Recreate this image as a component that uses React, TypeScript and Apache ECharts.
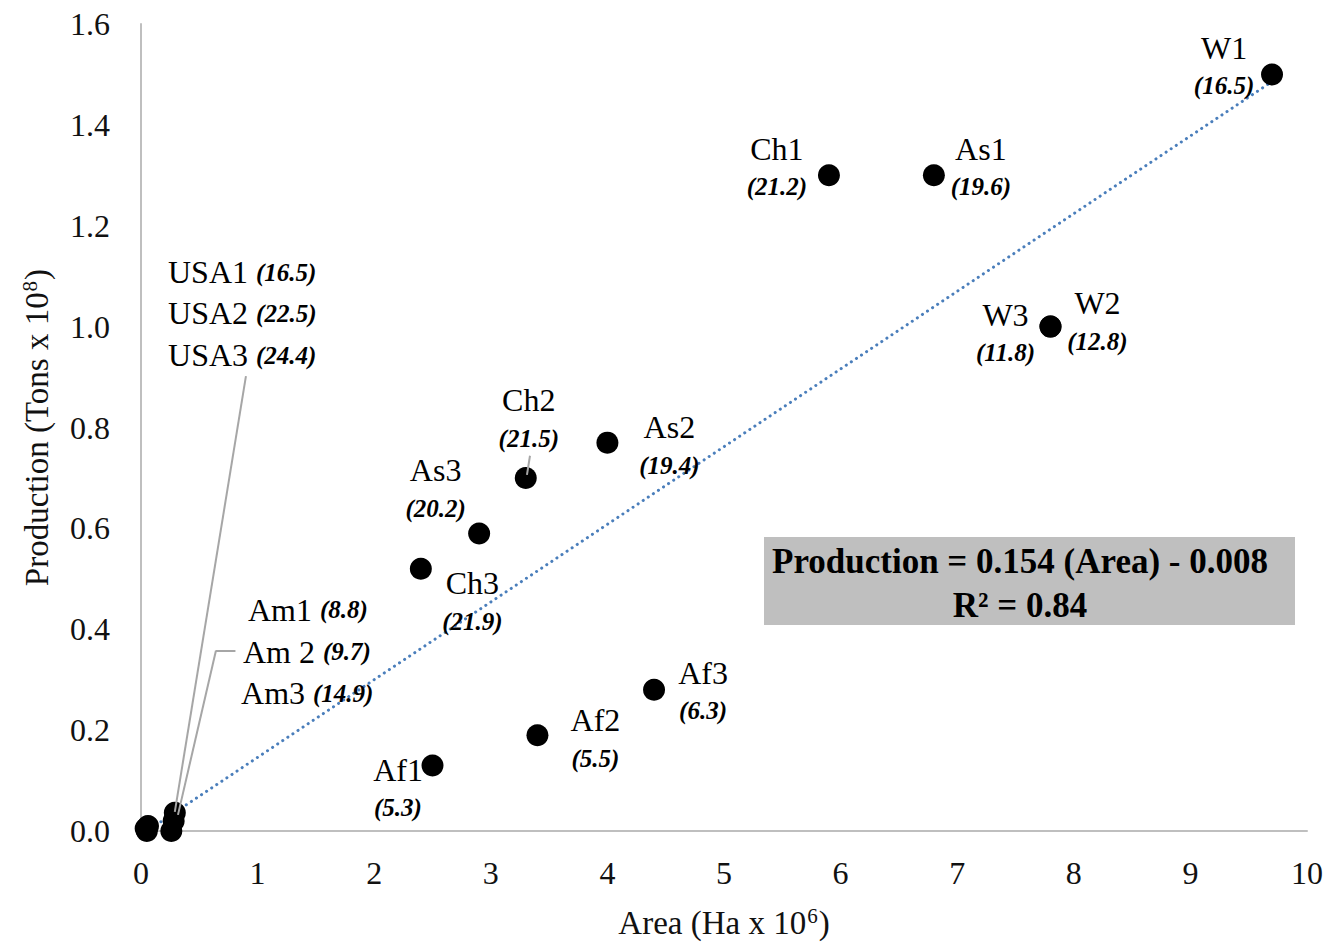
import React, { useEffect, useRef } from "react";
import * as echarts from "echarts";

// ---- data ----
const names = ["W1", "Ch1", "As1", "W2", "W3", "Ch2", "As2", "As3", "Ch3", "Af3", "Af2", "Af1", "USA1", "USA2", "USA3", "Am1", "Am 2", "Am3"];
const areas = [9.7, 5.9, 6.8, 7.8, 7.8, 3.3, 4.0, 2.9, 2.4, 4.4, 3.4, 2.5, 0.29, 0.28, 0.26, 0.04, 0.06, 0.05];
const productions = [1.5, 1.3, 1.3, 1.0, 1.0, 0.7, 0.77, 0.59, 0.52, 0.28, 0.19, 0.13, 0.036, 0.02, 0.0, 0.005, 0.01, 0.0];
const yields = ["16.5", "21.2", "19.6", "12.8", "11.8", "21.5", "19.4", "20.2", "21.9", "6.3", "5.5", "5.3", "16.5", "22.5", "24.4", "8.8", "9.7", "14.9"];

const xTicks = { min: 0, max: 10, interval: 1 };
const yTicks = { min: 0, max: 1.6, interval: 0.2 };

const TREND_SLOPE = 0.154;
const TREND_INTERCEPT = -0.008;
const R2 = 0.84;

// ---- layout (label offsets in px from the point centre) ----
const labelOffsets: [number, number][] = [
  [-48, -7.5], [-52, -7.5], [47, -7.5], [47, -4.5], [-45, 7], [3, -58.5],
  [62, 3.5], [-43.5, -44], [51.5, 33.5], [49, 2], [58, 4], [-34.5, 23.5],
  [-6.8, -540.8], [-5.6, -507.9], [-3.3, -476],
  [102.3, -218.5], [95, -174], [94.2, -138],
];
const inlineLabel = [false, false, false, false, false, false, false, false, false, false, false, false, true, true, true, true, true, true];

// leader lines (data coordinates)
const leaderLines: [number, number][][] = [
  [[0.9, 0.902], [0.29, 0.038]],
  [[0.81, 0.358], [0.643, 0.358]],
  [[0.643, 0.358], [0.317, 0.032]],
  [[3.336, 0.744], [3.31, 0.706]],
];

const FONT = '"Liberation Serif", "Times New Roman", serif';

export default function App() {
  const ref = useRef<HTMLDivElement>(null);
  useEffect(() => {
    if (!ref.current) return;
    const chart = echarts.init(ref.current, undefined, { renderer: "svg" });
    const xMin = Math.min(...areas);
    const xMax = Math.max(...areas);
    const trend = [
      [xMin, TREND_SLOPE * xMin + TREND_INTERCEPT],
      [xMax, TREND_SLOPE * xMax + TREND_INTERCEPT],
    ];
    const rich = {
      n: { fontFamily: FONT, fontSize: 32, color: "#000", lineHeight: 38 },
      v: { fontFamily: FONT, fontSize: 25, fontWeight: "bold", fontStyle: "italic", color: "#000", lineHeight: 38 },
    };
    const points = names.map((n, i) => ({
      value: [areas[i], productions[i]],
      label: {
        show: true,
        position: "inside",
        align: inlineLabel[i] ? "left" : "center",
        verticalAlign: "middle",
        formatter: inlineLabel[i] ? `{n|${n} }{v|(${yields[i]})}` : `{n|${n}}\n{v|(${yields[i]})}`,
        rich,
      },
    }));
    chart.setOption({
      animation: false,
      backgroundColor: "#fff",
      grid: { left: 141, right: 25, top: 24, bottom: 116 },
      xAxis: {
        type: "value",
        ...xTicks,
        name: "Area (Ha x 10{s|6})",
        nameLocation: "middle",
        nameGap: 74,
        nameTextStyle: {
          fontFamily: FONT, fontSize: 33, color: "#111",
          rich: { s: { fontFamily: FONT, fontSize: 21, color: "#111", verticalAlign: "top", padding: [0, 1, 14, 1] } },
        },
        axisLine: { show: true, onZero: false, lineStyle: { color: "#bfbfbf", width: 2 } },
        axisTick: { show: false },
        splitLine: { show: false },
        axisLabel: { fontFamily: FONT, fontSize: 32, color: "#111", margin: 26 },
      },
      yAxis: {
        type: "value",
        ...yTicks,
        name: "Production (Tons x 10{s|8})",
        nameLocation: "middle",
        nameGap: 87,
        nameRotate: 90,
        nameTextStyle: {
          fontFamily: FONT, fontSize: 33, color: "#111",
          rich: { s: { fontFamily: FONT, fontSize: 21, color: "#111", verticalAlign: "top", padding: [0, 1, 14, 1] } },
        },
        axisLine: { show: true, lineStyle: { color: "#bfbfbf", width: 2 } },
        axisTick: { show: false },
        splitLine: { show: false },
        axisLabel: { fontFamily: FONT, fontSize: 32, color: "#111", margin: 31, formatter: (v: number) => v.toFixed(1) },
      },
      series: [
        {
          type: "line",
          data: trend,
          showSymbol: false,
          symbol: "none",
          z: 1,
          lineStyle: { color: "#4a7ebb", width: 3, type: [0.1, 6], cap: "round" },
          silent: true,
        },
        {
          type: "scatter",
          data: points,
          symbolSize: 22,
          clip: false,
          z: 2,
          itemStyle: { color: "#000", opacity: 1 },
          labelLayout: (params: any) => ({
            dx: labelOffsets[params.dataIndex][0],
            dy: labelOffsets[params.dataIndex][1],
            hideOverlap: false,
          }),
        },
        {
          type: "line",
          data: [],
          z: 3,
          markLine: {
            silent: true,
            symbol: ["none", "none"],
            label: { show: false },
            lineStyle: { color: "#a6a6a6", width: 2, type: "solid" },
            data: leaderLines.map((seg) => [{ coord: seg[0] }, { coord: seg[1] }]),
          },
        },
      ],
      graphic: [
        {
          type: "rect",
          shape: { x: 764, y: 537, width: 531, height: 88 },
          style: { fill: "#bfbfbf" },
          z: 10,
        },
        {
          type: "text",
          x: 1020,
          y: 561,
          z: 11,
          style: {
            text: `Production = ${TREND_SLOPE} (Area) - ${Math.abs(TREND_INTERCEPT).toFixed(3)}`,
            fontFamily: FONT, fontSize: 35, fontWeight: "bold", fill: "#000",
            align: "center", verticalAlign: "middle",
          },
        },
        {
          type: "text",
          x: 1020,
          y: 605,
          z: 11,
          style: {
            text: `R² = ${R2}`,
            fontFamily: FONT, fontSize: 35, fontWeight: "bold", fill: "#000",
            align: "center", verticalAlign: "middle",
          },
        },
      ],
    });
    return () => chart.dispose();
  }, []);
  return <div ref={ref} style={{ position: "fixed", left: 0, top: 0, width: 1332, height: 947 }} />;
}
